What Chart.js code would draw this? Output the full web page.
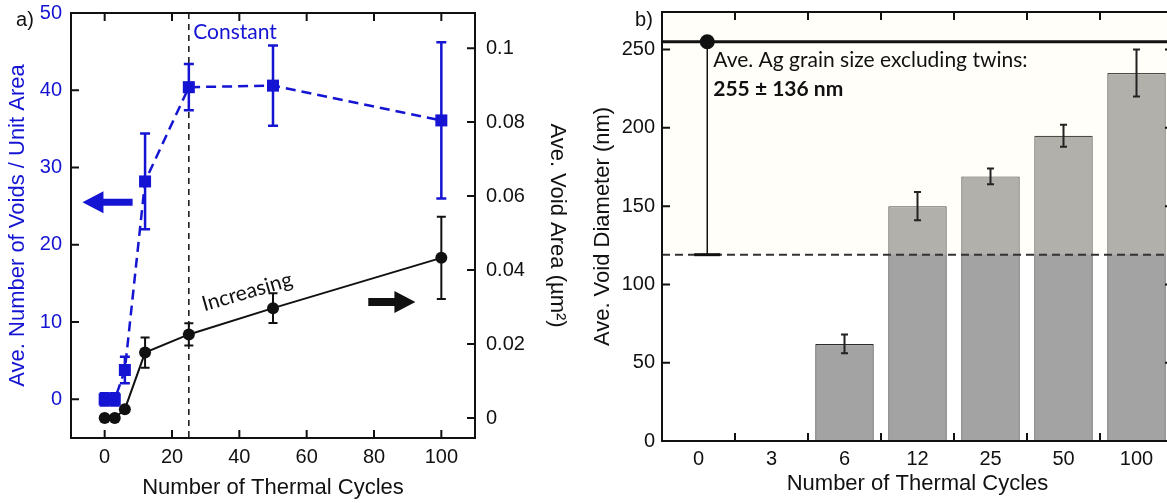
<!DOCTYPE html>
<html>
<head>
<meta charset="utf-8">
<title>Voids vs thermal cycles</title>
<script src="https://cdn.jsdelivr.net/npm/chart.js@4.4.0/dist/chart.umd.min.js"></script>
<style>
  html, body { margin: 0; padding: 0; background: #fff; overflow: hidden; width: 1167px; height: 503px; }
  #voidsWrap { position: absolute; left: 0; top: 0; width: 590px; height: 503px; }
  #diamWrap { position: absolute; left: 590px; top: 0; width: 600px; height: 503px; }
</style>
</head>
<body>
<div id="voidsWrap"><canvas id="voidsCanvas" width="590" height="503"></canvas></div>
<div id="diamWrap"><canvas id="diamCanvas" width="600" height="503"></canvas></div>
<script>
// a) void count and void area against number of cycles
var cycles = [0, 3, 6, 12, 25, 50, 100];
var voidCount = [0, 0, 3.8, 28.2, 40.4, 40.6, 36.1];
var voidCountErr = [0.8, 0.8, 1.7, 6.2, 3.0, 5.2, 10.1];
var voidArea = [0, 0, 0.0024, 0.0177, 0.0226, 0.0297, 0.0433];
var voidAreaErr = [0, 0, 0, 0.0041, 0.003, 0.004, 0.0111];
var cycleTicks = [0, 20, 40, 60, 80, 100];
var countTicks = [0, 10, 20, 30, 40, 50];
var areaTicks = [0, 0.02, 0.04, 0.06, 0.08, 0.1];

// b) void diameter per cycle group, plus the Ag grain size reference
var cycleLabels = ['0', '3', '6', '12', '25', '50', '100'];
var voidDiam = [null, null, 62, 150, 169, 195, 235];
var voidDiamErr = [0, 0, 6, 9, 5, 7, 15];
var diamTicks = [0, 50, 100, 150, 200, 250];
var grainSize = 255;
var grainSizeErr = 136;

var blue = '#1414d2';
var ink = '#111';
var FONT = 'Liberation Sans';
var NOTE_FONT = 'Lato';

Chart.defaults.font.family = FONT;
Chart.defaults.color = ink;

var noGrid = { display: false, drawTicks: false };

function fixedSize(prop, size) {
  return function (scale) {
    scale[prop] = size;
    scale.paddingTop = 0; scale.paddingBottom = 0;
    scale.paddingLeft = 0; scale.paddingRight = 0;
  };
}

function useTicks(list) {
  return function (scale) {
    scale.ticks = list.map(function (v) { return { value: v }; });
  };
}

function drawErrorBars(chart, sets) {
  var ctx = chart.ctx;
  sets.forEach(function (set) {
    var meta = chart.getDatasetMeta(set.dataset);
    var yScale = chart.scales[meta.yAxisID];
    var values = chart.data.datasets[set.dataset].data;
    ctx.save();
    ctx.strokeStyle = set.color;
    ctx.lineWidth = set.width;
    meta.data.forEach(function (pt, i) {
      var err = set.errors[i];
      var v = values[i] !== null && typeof values[i] === 'object' ? values[i].y : values[i];
      if (!err || v == null) return;
      var top = yScale.getPixelForValue(v + err);
      var bot = yScale.getPixelForValue(v - err);
      ctx.beginPath();
      ctx.moveTo(pt.x, top); ctx.lineTo(pt.x, bot);
      ctx.moveTo(pt.x - set.cap, top); ctx.lineTo(pt.x + set.cap, top);
      ctx.moveTo(pt.x - set.cap, bot); ctx.lineTo(pt.x + set.cap, bot);
      ctx.stroke();
    });
    ctx.restore();
  });
}

// box round the plot with inward tick marks
function drawFrame(chart, marks) {
  var a = chart.chartArea, ctx = chart.ctx, len = 8;
  ctx.save();
  ctx.strokeStyle = ink;
  ctx.lineWidth = 2;
  ctx.strokeRect(a.left, a.top, a.right - a.left, a.bottom - a.top);
  ctx.beginPath();
  marks.x.forEach(function (px) {
    ctx.moveTo(px, a.bottom); ctx.lineTo(px, a.bottom - len);
    ctx.moveTo(px, a.top); ctx.lineTo(px, a.top + len);
  });
  marks.left.forEach(function (py) {
    ctx.moveTo(a.left, py); ctx.lineTo(a.left + len, py);
  });
  marks.right.forEach(function (py) {
    ctx.moveTo(a.right, py); ctx.lineTo(a.right - len, py);
  });
  ctx.stroke();
  ctx.restore();
}

function drawArrow(ctx, tail, tip, y, shaft, color) {
  var dir = tip > tail ? 1 : -1, head = 21, half = 11;
  ctx.save();
  ctx.fillStyle = color;
  ctx.beginPath();
  ctx.moveTo(tail, y - shaft);
  ctx.lineTo(tip - dir * head, y - shaft);
  ctx.lineTo(tip - dir * head, y - half);
  ctx.lineTo(tip, y);
  ctx.lineTo(tip - dir * head, y + half);
  ctx.lineTo(tip - dir * head, y + shaft);
  ctx.lineTo(tail, y + shaft);
  ctx.closePath();
  ctx.fill();
  ctx.restore();
}

var voidsPlugin = {
  id: 'voidsDecor',
  beforeDatasetsDraw: function (chart) {
    // dashed marker at 25 cycles
    var ctx = chart.ctx, a = chart.chartArea;
    var x = chart.scales.x.getPixelForValue(25);
    ctx.save();
    ctx.strokeStyle = ink;
    ctx.lineWidth = 1.5;
    ctx.setLineDash([6, 5]);
    ctx.beginPath();
    ctx.moveTo(x, a.top); ctx.lineTo(x, a.bottom);
    ctx.stroke();
    ctx.restore();
  },
  afterDatasetsDraw: function (chart) {
    var ctx = chart.ctx, sx = chart.scales.x, sc = chart.scales.yCount, sa = chart.scales.yArea;
    drawErrorBars(chart, [
      { dataset: 0, errors: voidCountErr, color: blue, width: 2.5, cap: 5 },
      { dataset: 1, errors: voidAreaErr, color: ink, width: 2, cap: 4.5 }
    ]);
    drawArrow(ctx, sx.getPixelForValue(8.3), sx.getPixelForValue(-6.6), sc.getPixelForValue(25.5), 3.5, blue);
    drawArrow(ctx, sx.getPixelForValue(78.3), sx.getPixelForValue(92.3), sa.getPixelForValue(0.0314), 4, ink);

    ctx.save();
    ctx.font = '21px ' + NOTE_FONT;
    ctx.fillStyle = blue;
    ctx.textAlign = 'left';
    ctx.textBaseline = 'middle';
    ctx.fillText('Constant', sx.getPixelForValue(26.3), sc.getPixelForValue(47.5));
    ctx.translate(sx.getPixelForValue(42.3), sa.getPixelForValue(0.0341));
    ctx.rotate(-16 * Math.PI / 180);
    ctx.fillStyle = ink;
    ctx.font = '21px ' + NOTE_FONT;
    ctx.textAlign = 'center';
    ctx.fillText('Increasing', 0, 0);
    ctx.restore();
  },
  afterDraw: function (chart) {
    var sx = chart.scales.x, sc = chart.scales.yCount, sa = chart.scales.yArea;
    drawFrame(chart, {
      x: cycleTicks.map(function (v) { return sx.getPixelForValue(v); }),
      left: countTicks.map(function (v) { return sc.getPixelForValue(v); }),
      right: areaTicks.map(function (v) { return sa.getPixelForValue(v); })
    });
    var ctx = chart.ctx;
    ctx.save();
    ctx.font = '20px ' + FONT;
    ctx.fillStyle = ink;
    ctx.textAlign = 'center';
    ctx.textBaseline = 'middle';
    ctx.fillText('a)', 25, 20);
    ctx.restore();
  }
};

var voidsChart = new Chart(document.getElementById('voidsCanvas'), {
  type: 'scatter',
  data: {
    datasets: [
      {
        label: 'Voids per unit area',
        data: cycles.map(function (c, i) { return { x: c, y: voidCount[i] }; }),
        yAxisID: 'yCount',
        showLine: true,
        borderColor: blue,
        borderWidth: 2.5,
        borderDash: [10, 6],
        pointStyle: 'rect',
        pointRadius: 8.5,
        pointBackgroundColor: blue,
        pointBorderWidth: 0,
        order: 1
      },
      {
        label: 'Void area',
        data: cycles.map(function (c, i) { return { x: c, y: voidArea[i] }; }),
        yAxisID: 'yArea',
        showLine: true,
        borderColor: ink,
        borderWidth: 2,
        pointRadius: 6,
        pointBackgroundColor: ink,
        pointBorderWidth: 0,
        order: 0
      }
    ]
  },
  options: {
    responsive: false,
    animation: false,
    layout: { padding: { top: 13, left: 0, right: 0, bottom: 0 } },
    plugins: { legend: { display: false }, tooltip: { enabled: false } },
    scales: {
      x: {
        type: 'linear', position: 'bottom', min: -10, max: 110,
        grid: noGrid, border: { display: false },
        afterBuildTicks: useTicks(cycleTicks),
        afterFit: fixedSize('height', 65),
        ticks: { padding: 7, color: ink, font: { size: 20 } },
        title: { display: true, text: 'Number of Thermal Cycles', color: ink, font: { size: 22 }, padding: { top: 0, bottom: 2 } }
      },
      yCount: {
        type: 'linear', position: 'left', min: -5, max: 50,
        grid: noGrid, border: { display: false },
        afterBuildTicks: useTicks(countTicks),
        afterFit: fixedSize('width', 71),
        ticks: { padding: 9, color: blue, font: { size: 20 } },
        title: { display: true, text: 'Ave. Number of Voids / Unit Area', color: blue, font: { size: 22 }, padding: { top: 5, bottom: 0 } }
      },
      yArea: {
        type: 'linear', position: 'right', min: -0.0054, max: 0.1095,
        grid: noGrid, border: { display: false },
        afterBuildTicks: useTicks(areaTicks),
        afterFit: fixedSize('width', 115),
        ticks: {
          padding: 11, color: ink, font: { size: 20 },
          callback: function (v) { return String(Number(v.toFixed(2))); }
        },
        title: { display: true, text: 'Ave. Void Area (\u00b5m\u00b2)', color: ink, font: { size: 22 }, padding: { top: 20, bottom: 0 } }
      }
    }
  },
  plugins: [voidsPlugin]
});

var diamPlugin = {
  id: 'diamDecor',
  afterDatasetDraw: function (chart, args) {
    if (args.index !== 0) return;
    // tinted band above the lower bound of the grain size
    var ctx = chart.ctx, a = chart.chartArea, sy = chart.scales.y;
    var low = sy.getPixelForValue(grainSize - grainSizeErr);
    ctx.save();
    ctx.fillStyle = 'rgba(255, 248, 212, 0.16)';
    ctx.fillRect(a.left, a.top, a.right - a.left, low - a.top);
    ctx.restore();
    drawErrorBars(chart, [{ dataset: 0, errors: voidDiamErr, color: '#222', width: 2, cap: 3.5 }]);
  },
  afterDatasetsDraw: function (chart) {
    var ctx = chart.ctx, a = chart.chartArea, sy = chart.scales.y;
    var dot = chart.getDatasetMeta(1).data[0];
    var yMid = sy.getPixelForValue(grainSize);
    var yLow = sy.getPixelForValue(grainSize - grainSizeErr);
    ctx.save();
    ctx.strokeStyle = '#333';
    ctx.lineWidth = 2;
    ctx.setLineDash([8, 5]);
    ctx.beginPath();
    ctx.moveTo(a.left, yLow); ctx.lineTo(a.right, yLow);
    ctx.stroke();
    ctx.setLineDash([]);
    ctx.strokeStyle = ink;
    ctx.lineWidth = 3;
    ctx.beginPath();
    ctx.moveTo(a.left, yMid); ctx.lineTo(a.right, yMid);
    ctx.stroke();
    ctx.lineWidth = 1.5;
    ctx.beginPath();
    ctx.moveTo(dot.x, yMid); ctx.lineTo(dot.x, yLow);
    ctx.stroke();
    ctx.lineWidth = 3;
    ctx.beginPath();
    ctx.moveTo(dot.x - 13, yLow); ctx.lineTo(dot.x + 13, yLow);
    ctx.stroke();

    ctx.fillStyle = ink;
    ctx.textAlign = 'left';
    ctx.textBaseline = 'middle';
    ctx.font = '21px ' + NOTE_FONT;
    ctx.fillText('Ave. Ag grain size excluding twins:', dot.x + 6, yMid + 18);
    ctx.font = 'bold 21px ' + NOTE_FONT;
    ctx.fillText(grainSize + ' \u00b1 ' + grainSizeErr + ' nm', dot.x + 6, yMid + 47);
    ctx.restore();
  },
  afterDraw: function (chart) {
    var sx = chart.scales.x, sy = chart.scales.y;
    var step = sx.getPixelForValue(1) - sx.getPixelForValue(0);
    var bounds = [];
    for (var i = 1; i < cycleLabels.length; i++) bounds.push(sx.getPixelForValue(i) - step / 2);
    var rows = diamTicks.map(function (v) { return sy.getPixelForValue(v); });
    drawFrame(chart, { x: bounds, left: rows, right: rows });
    var ctx = chart.ctx;
    ctx.save();
    ctx.font = '20px ' + FONT;
    ctx.fillStyle = ink;
    ctx.textAlign = 'center';
    ctx.textBaseline = 'middle';
    ctx.fillText('b)', 54, 20);
    ctx.restore();
  }
};

var diamChart = new Chart(document.getElementById('diamCanvas'), {
  type: 'bar',
  data: {
    labels: cycleLabels,
    datasets: [
      {
        label: 'Void diameter',
        data: voidDiam,
        backgroundColor: '#a3a3a3',
        borderColor: '#2a2a2a',
        borderWidth: 1.2,
        barPercentage: 0.8,
        categoryPercentage: 1.0,
        grouped: false,
        order: 2
      },
      {
        type: 'scatter',
        label: 'Ag grain size',
        data: [{ x: 0.12, y: grainSize }],
        xAxisID: 'xg',
        pointRadius: 7.5,
        pointBackgroundColor: ink,
        pointBorderWidth: 0,
        order: 1
      }
    ]
  },
  options: {
    responsive: false,
    animation: false,
    layout: { padding: { top: 12, left: 0, right: 17, bottom: 0 } },
    plugins: { legend: { display: false }, tooltip: { enabled: false } },
    scales: {
      x: {
        position: 'bottom',
        grid: noGrid, border: { display: false },
        afterFit: fixedSize('height', 62),
        ticks: { padding: 6, color: ink, font: { size: 20 } },
        title: { display: true, text: 'Number of Thermal Cycles', color: ink, font: { size: 22 }, padding: { top: 0, bottom: 6 } }
      },
      xg: { type: 'linear', display: false, offset: false, min: -0.5, max: 6.5 },
      y: {
        type: 'linear', position: 'left', min: 0, max: 274,
        grid: noGrid, border: { display: false },
        afterBuildTicks: useTicks(diamTicks),
        afterFit: fixedSize('width', 72),
        ticks: { padding: 7, color: ink, font: { size: 20 } },
        title: { display: true, text: 'Ave. Void Diameter (nm)', color: ink, font: { size: 22 }, padding: { top: 0, bottom: 0 } }
      }
    }
  },
  plugins: [diamPlugin]
});
</script>
</body>
</html>
